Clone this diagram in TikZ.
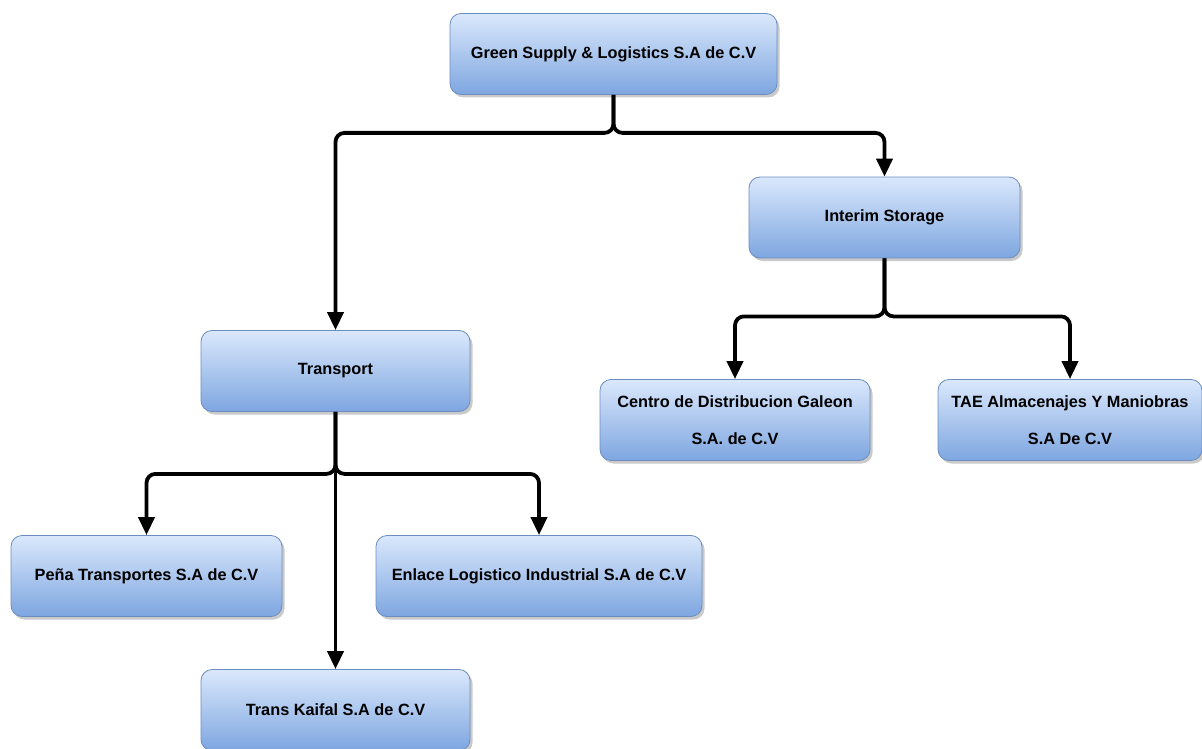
\documentclass[tikz,border=0pt]{standalone}
\usepackage{fontspec}
\setmainfont{Liberation Sans}
\usetikzlibrary{arrows.meta,shadows}
\definecolor{boxtop}{HTML}{DAE8FC}
\definecolor{boxbot}{HTML}{7EA6E0}
\definecolor{boxline}{HTML}{6C8EBF}

\begin{document}
\begin{tikzpicture}[x=1pt,y=-1pt,
	unit/.style={draw=boxline,line width=0.8pt,rectangle,rounded corners=11pt,top color=boxtop,bottom color=boxbot,
		drop shadow={shadow xshift=2.5pt,shadow yshift=-3pt,opacity=0.35,fill=black!60},
		minimum height=81pt,inner sep=0pt,align=center,font=\fontsize{16.3}{37}\selectfont\bfseries,text=black},
	conn/.style={line width=3.8pt,rounded corners=9pt,-{Triangle[width=16pt,length=18pt]}}]
			\useasboundingbox (0,0) rectangle (1202,749);
			\node[unit,minimum width=327pt] (gsl)at(613.5,54) {Green Supply \& Logistics S.A de C.V};
			\node[unit,minimum width=271pt] (ist)at(884.5,217.5) {Interim Storage};
			\node[unit,minimum width=269pt] (tra)at(335.5,371) {Transport};
			\node[unit,minimum width=270pt] (cdg)at(735,420) {Centro de Distribucion Galeon\\S.A. de C.V};
			\node[unit,minimum width=264pt] (tae)at(1070,420) {TAE Almacenajes Y Maniobras\\S.A De C.V};
			\node[unit,minimum width=271pt] (pen)at(146.5,576) {Peña Transportes S.A de C.V};
			\node[unit,minimum width=326pt] (eli)at(539,576) {Enlace Logistico Industrial S.A de C.V};
			\node[unit,minimum width=269pt] (tka)at(335.5,710) {Trans Kaifal S.A de C.V};
			\draw[conn] (gsl.south) -- ++(0,38) -| (tra.north);
			\draw[conn] (gsl.south) -- ++(0,38) -| (ist.north);
			\draw[conn] (ist.south) -- ++(0,58) -| (cdg.north);
			\draw[conn] (ist.south) -- ++(0,58) -| (tae.north);
			\draw[conn] (tra.south) -- ++(0,62) -| (pen.north);
			\draw[conn] (tra.south) -- ++(0,62) -| (eli.north);
			\draw[conn] (tra.south) -- (tka.north);
\end{tikzpicture}
\end{document}
